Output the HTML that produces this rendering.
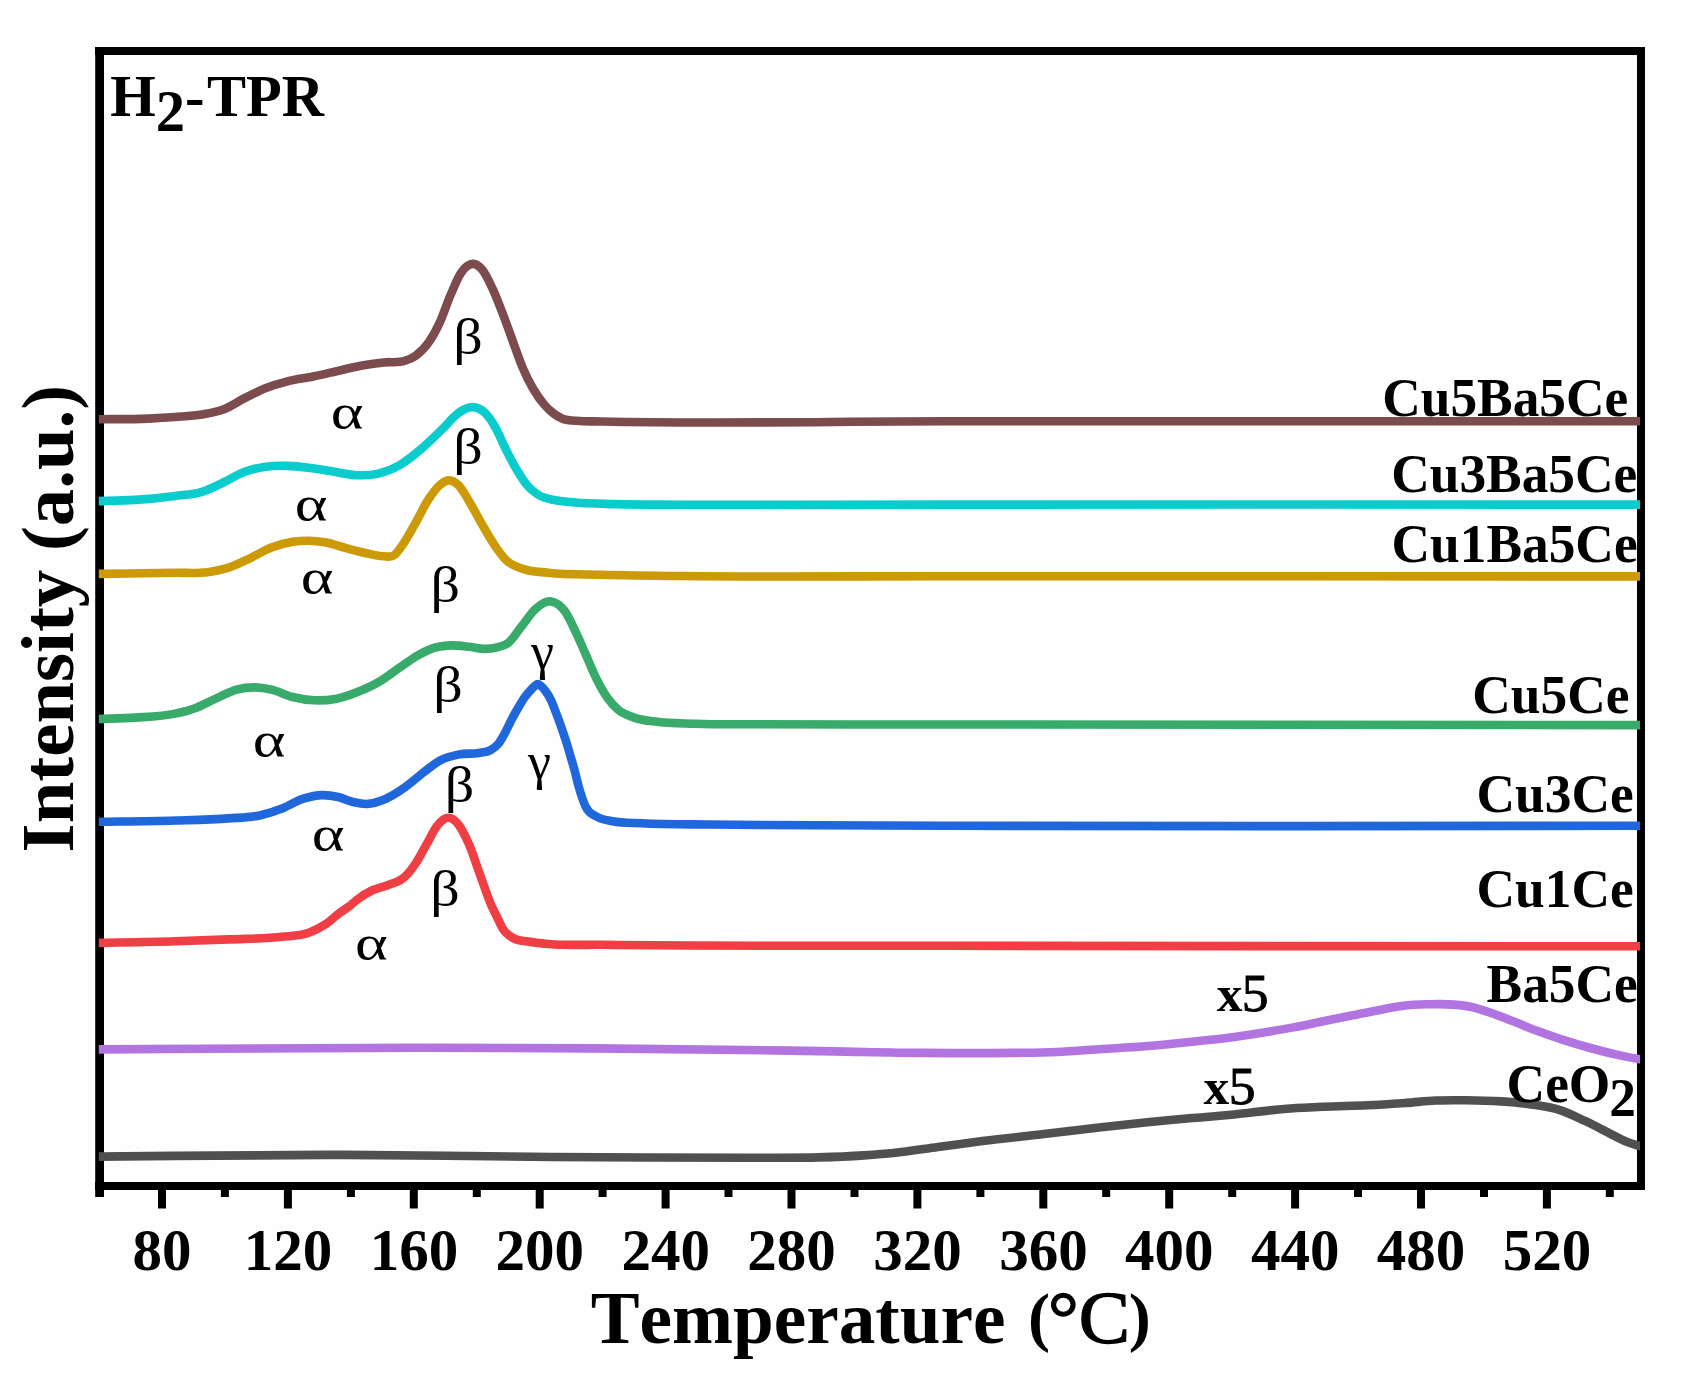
<!DOCTYPE html>
<html lang="en">
<head>
<meta charset="utf-8">
<title>H2-TPR</title>
<style>
html,body{margin:0;padding:0;background:#fff;}
body{width:1684px;height:1375px;overflow:hidden;}
svg{display:block;}
svg text{font-kerning:none;font-family:"Liberation Serif","DejaVu Serif",serif;font-weight:bold;fill:#000;}
.tl text{font-size:59px;}
.lb text{font-size:54.2px;}
.gk text{font-weight:normal;}
.cv path{fill:none;stroke-width:8.6;stroke-linejoin:round;stroke-linecap:butt;}
</style>
</head>
<body>
<svg width="1684" height="1375" viewBox="0 0 1684 1375">
<rect x="0" y="0" width="1684" height="1375" fill="#ffffff"/>
<rect x="17" y="28" width="1641" height="1325" fill="#fefefe"/>
<!-- frame -->
<g fill="#000">
<rect x="95" y="47" width="1550" height="8"/>
<rect x="95" y="1182" width="1550" height="8"/>
<rect x="95.2" y="47" width="8.8" height="1150"/>
<rect x="1637" y="47" width="8" height="1143"/>
<rect x="158.0" y="1186" width="8" height="22.5"/><rect x="220.9" y="1186" width="8" height="11"/><rect x="283.9" y="1186" width="8" height="22.5"/><rect x="346.9" y="1186" width="8" height="11"/><rect x="409.8" y="1186" width="8" height="22.5"/><rect x="472.8" y="1186" width="8" height="11"/><rect x="535.7" y="1186" width="8" height="22.5"/><rect x="598.6" y="1186" width="8" height="11"/><rect x="661.6" y="1186" width="8" height="22.5"/><rect x="724.5" y="1186" width="8" height="11"/><rect x="787.5" y="1186" width="8" height="22.5"/><rect x="850.5" y="1186" width="8" height="11"/><rect x="913.4" y="1186" width="8" height="22.5"/><rect x="976.4" y="1186" width="8" height="11"/><rect x="1039.3" y="1186" width="8" height="22.5"/><rect x="1102.2" y="1186" width="8" height="11"/><rect x="1165.2" y="1186" width="8" height="22.5"/><rect x="1228.2" y="1186" width="8" height="11"/><rect x="1291.1" y="1186" width="8" height="22.5"/><rect x="1354.0" y="1186" width="8" height="11"/><rect x="1417.0" y="1186" width="8" height="22.5"/><rect x="1480.0" y="1186" width="8" height="11"/><rect x="1542.9" y="1186" width="8" height="22.5"/><rect x="1605.8" y="1186" width="8" height="11"/>
</g>
<defs><clipPath id="cp"><rect x="98.8" y="40" width="1541.2" height="1160"/></clipPath></defs>
<g class="cv" clip-path="url(#cp)">
<path d="M96.0 1156.6C178.8 1156.0 261.6 1154.7 344.4 1154.9C413.7 1155.1 482.9 1156.5 552.2 1157.0C616.5 1157.4 680.7 1157.8 745.0 1157.7C769.7 1157.7 794.3 1158.1 819.0 1157.4C833.9 1157.0 848.9 1156.4 863.8 1155.4C873.7 1154.7 883.6 1154.0 893.5 1153.0C908.3 1151.5 923.2 1149.0 938.0 1147.0C952.8 1145.0 967.7 1143.0 982.5 1141.1C1002.3 1138.6 1022.1 1136.6 1041.9 1134.3C1061.7 1132.0 1081.5 1129.4 1101.3 1127.2C1115.9 1125.6 1130.4 1124.0 1145.0 1122.5C1159.8 1121.0 1174.7 1119.6 1189.5 1118.3C1204.4 1117.0 1219.2 1116.0 1234.1 1114.5C1248.9 1113.0 1263.8 1110.8 1278.6 1109.5C1293.4 1108.2 1308.3 1107.5 1323.1 1106.8C1338.0 1106.1 1352.8 1106.0 1367.7 1105.3C1380.6 1104.7 1393.4 1103.8 1406.3 1102.9C1416.2 1102.2 1426.1 1100.9 1436.0 1100.5C1445.9 1100.1 1455.8 1100.2 1465.7 1100.3C1477.6 1100.4 1489.4 1100.6 1501.3 1101.4C1511.2 1102.1 1521.1 1102.9 1531.0 1104.4C1540.9 1105.9 1550.8 1107.0 1560.7 1110.3C1568.6 1112.9 1576.5 1117.0 1584.4 1120.7C1592.3 1124.4 1600.3 1128.6 1608.2 1132.6C1614.1 1135.6 1620.1 1139.1 1626.0 1141.5C1630.7 1143.4 1635.3 1144.8 1640.0 1146.2C1642.0 1146.8 1644.0 1147.4 1646.0 1148.0" stroke="#505050"/>
<path d="M96.0 1049.4C206.5 1048.8 317.0 1047.6 427.5 1047.7C533.3 1047.8 639.2 1048.5 745.0 1050.0C774.7 1050.4 804.3 1050.9 834.0 1051.4C863.7 1051.9 893.3 1052.7 923.0 1052.9C952.7 1053.2 982.3 1053.3 1012.0 1052.9C1026.9 1052.7 1041.9 1052.7 1056.8 1052.0C1071.6 1051.3 1086.5 1050.0 1101.3 1049.0C1115.9 1048.1 1130.4 1047.5 1145.0 1046.3C1159.8 1045.1 1174.7 1043.6 1189.5 1042.0C1204.4 1040.4 1219.2 1038.9 1234.1 1036.9C1244.0 1035.5 1253.9 1034.0 1263.8 1032.4C1273.7 1030.8 1283.6 1029.3 1293.5 1027.4C1303.4 1025.6 1313.2 1023.3 1323.1 1021.3C1333.0 1019.3 1342.9 1017.3 1352.8 1015.3C1362.7 1013.3 1372.6 1011.2 1382.5 1009.4C1389.4 1008.1 1396.4 1006.6 1403.3 1005.8C1411.2 1004.8 1419.2 1004.5 1427.1 1004.3C1436.0 1004.1 1444.9 1003.8 1453.8 1004.6C1459.7 1005.1 1465.7 1005.7 1471.6 1007.0C1477.5 1008.3 1483.5 1010.4 1489.4 1012.4C1497.3 1015.0 1505.3 1018.2 1513.2 1021.3C1521.1 1024.4 1529.0 1027.8 1536.9 1030.8C1544.8 1033.8 1552.8 1036.5 1560.7 1039.1C1570.6 1042.3 1580.5 1045.3 1590.4 1048.0C1600.3 1050.7 1610.1 1053.3 1620.0 1055.4C1626.7 1056.8 1633.3 1058.0 1640.0 1059.3C1642.0 1059.7 1644.0 1060.1 1646.0 1060.5" stroke="#b174e1"/>
<path d="M96.0 942.9C122.4 942.4 148.8 942.1 175.2 941.3C193.0 940.8 210.8 940.1 228.6 939.4C246.4 938.6 264.3 938.9 282.1 936.8C291.0 935.8 299.9 936.1 308.8 932.8C314.1 930.8 319.5 928.2 324.8 924.7C330.2 921.2 335.5 915.8 340.9 912.0C343.6 910.1 346.3 908.6 349.0 906.5C351.6 904.5 354.3 901.8 356.9 899.8C362.2 895.7 367.6 892.5 372.9 890.0C378.3 887.5 383.6 886.9 389.0 884.7C394.3 882.5 399.7 881.7 405.0 876.6C408.6 873.2 412.1 868.6 415.7 863.3C419.3 858.0 422.8 850.8 426.4 844.6C430.0 838.4 433.5 830.4 437.1 825.9C440.7 821.4 444.2 818.0 447.8 817.8C451.3 817.6 454.9 820.1 458.4 824.5C462.0 829.0 465.5 836.4 469.1 844.6C472.7 852.9 476.2 864.2 479.8 874.0C483.4 883.8 486.9 895.1 490.5 903.4C492.7 908.5 494.8 912.6 497.0 917.0C499.0 921.1 501.0 925.8 503.0 929.0C506.3 934.3 509.7 935.9 513.0 938.0C518.0 941.1 522.9 940.6 527.9 941.5C534.7 942.8 541.6 943.4 548.4 944.0C566.2 945.6 584.1 944.6 601.9 944.8C716.3 946.3 830.6 945.5 945.0 945.8C1178.7 946.3 1412.3 946.1 1646.0 946.3" stroke="#f03f44"/>
<path d="M96.0 821.8C122.4 821.4 148.8 821.3 175.2 820.5C193.0 820.0 210.8 819.8 228.6 818.4C239.3 817.6 250.0 817.6 260.7 815.2C267.8 813.6 275.0 811.3 282.1 808.5C289.2 805.7 296.3 800.8 303.4 798.6C309.7 796.6 315.9 795.2 322.2 795.1C327.5 795.0 332.9 795.8 338.2 797.0C343.5 798.2 348.9 801.1 354.2 802.3C358.7 803.3 363.1 804.1 367.6 803.9C372.9 803.6 378.3 801.8 383.6 799.7C390.7 796.8 397.9 792.2 405.0 787.2C411.3 782.8 417.6 777.0 423.9 772.2C429.1 768.2 434.4 763.6 439.6 760.7C446.2 757.1 452.7 755.7 459.3 754.4C465.8 753.1 472.4 754.2 478.9 753.0C482.8 752.3 486.8 752.3 490.7 750.0C493.3 748.5 495.9 746.9 498.5 743.6C500.7 740.8 502.9 736.7 505.1 732.7C507.3 728.7 509.4 723.7 511.6 719.6C513.8 715.4 516.0 711.5 518.2 707.8C520.4 704.1 522.5 700.3 524.7 697.3C526.9 694.2 529.1 691.8 531.3 689.5C532.5 688.2 533.8 686.8 535.0 685.8C535.9 685.1 536.9 684.1 537.8 684.1C538.7 684.1 539.7 685.1 540.6 685.8C541.8 686.8 543.1 688.0 544.3 689.5C546.5 692.2 548.7 695.3 550.9 699.9C552.6 703.5 554.4 708.5 556.1 713.0C557.9 717.6 559.6 722.3 561.4 727.4C563.1 732.4 564.9 737.5 566.6 743.1C567.9 747.3 569.2 751.8 570.5 756.2C571.8 760.7 573.2 765.0 574.5 770.0C575.8 775.0 577.2 781.2 578.5 786.0C581.0 794.9 583.4 802.1 585.9 807.2C589.4 814.4 593.0 814.2 596.5 816.5C601.9 820.0 607.2 820.1 612.6 821.3C622.4 823.4 632.2 822.7 642.0 823.2C664.3 824.3 686.5 824.2 708.8 824.5C744.4 825.0 780.1 825.1 815.7 825.3C858.8 825.6 901.9 825.7 945.0 825.8C1178.7 826.6 1412.3 825.8 1646.0 825.8" stroke="#2167dc"/>
<path d="M96.0 719.0C109.0 718.5 122.1 718.5 135.1 717.6C148.5 716.7 161.8 716.5 175.2 713.6C182.3 712.1 189.4 710.4 196.5 707.7C203.6 705.0 210.8 700.8 217.9 697.6C224.1 694.8 230.4 691.3 236.6 689.6C242.8 687.9 249.1 687.3 255.3 687.4C260.7 687.5 266.0 688.4 271.4 689.6C278.5 691.2 285.6 695.2 292.7 697.0C299.8 698.8 307.0 700.0 314.1 700.3C321.2 700.6 328.4 700.2 335.5 698.9C342.6 697.5 349.8 695.0 356.9 692.2C364.0 689.4 371.2 686.3 378.3 682.2C385.4 678.1 392.6 672.4 399.7 667.5C405.0 663.9 410.4 659.8 415.7 656.6C421.0 653.5 426.4 650.5 431.7 648.6C437.9 646.4 444.2 645.7 450.4 645.4C456.6 645.1 462.9 646.1 469.1 646.8C474.5 647.4 479.8 649.0 485.2 648.9C489.1 648.8 493.1 648.4 497.0 647.3C500.8 646.3 504.6 645.8 508.4 642.8C512.8 639.3 517.3 631.8 521.7 626.3C526.2 620.7 530.6 613.5 535.1 609.4C540.4 604.5 545.8 600.6 551.1 601.4C555.6 602.1 560.0 604.7 564.5 610.7C568.1 615.5 571.6 623.4 575.2 630.8C578.8 638.1 582.3 646.7 585.9 654.8C589.4 662.8 593.0 671.8 596.5 678.9C600.1 686.1 603.6 692.5 607.2 697.6C610.8 702.7 614.3 706.5 617.9 709.6C623.3 714.3 628.6 715.6 634.0 717.6C641.1 720.2 648.2 720.6 655.3 721.6C668.7 723.5 682.0 723.3 695.4 723.8C717.7 724.6 739.9 724.2 762.2 724.3C823.1 724.7 884.1 724.4 945.0 724.5C1178.7 724.7 1412.3 724.9 1646.0 725.1" stroke="#38ab6b"/>
<path d="M96.0 573.9C122.4 573.5 148.8 573.3 175.2 572.8C185.9 572.6 196.5 573.6 207.2 572.2C214.3 571.2 221.5 570.0 228.6 567.7C235.7 565.4 242.9 561.6 250.0 558.3C257.1 554.9 264.3 550.4 271.4 547.6C278.5 544.8 285.6 542.8 292.7 541.7C298.1 540.9 303.4 540.6 308.8 540.7C314.1 540.8 319.5 541.4 324.8 542.3C331.9 543.5 339.1 546.3 346.2 548.2C353.3 550.1 360.5 552.1 367.6 553.5C372.9 554.6 378.3 556.2 383.6 556.2C387.2 556.2 390.7 557.8 394.3 555.1C397.0 553.1 399.6 549.0 402.3 545.3C406.8 539.0 411.2 530.4 415.7 522.6C420.1 514.8 424.6 505.1 429.0 498.5C432.6 493.2 436.1 488.2 439.7 485.2C442.8 482.5 446.0 480.4 449.1 480.4C452.2 480.4 455.3 482.2 458.4 485.2C462.0 488.7 465.5 495.4 469.1 501.2C473.6 508.5 478.0 517.5 482.5 525.2C486.8 532.6 491.2 540.4 495.5 546.6C499.0 551.6 502.5 556.6 506.0 560.0C511.2 565.1 516.5 566.4 521.7 568.5C530.6 572.1 539.5 571.7 548.4 572.8C566.2 574.9 584.1 574.2 601.9 574.7C628.6 575.4 655.3 575.7 682.0 576.0C769.7 577.1 857.3 576.1 945.0 576.2C1178.7 576.3 1412.3 576.3 1646.0 576.4" stroke="#cc9a06"/>
<path d="M96.0 501.2C109.0 500.8 122.1 500.8 135.1 499.9C148.5 499.0 161.8 497.7 175.2 495.9C184.1 494.7 193.0 494.6 201.9 491.8C209.0 489.6 216.2 485.8 223.3 482.5C230.4 479.2 237.5 474.4 244.6 471.8C251.7 469.2 258.9 467.7 266.0 466.7C273.1 465.7 280.3 465.7 287.4 465.9C294.5 466.1 301.7 466.9 308.8 467.8C317.7 468.9 326.6 470.6 335.5 472.0C342.6 473.1 349.8 474.9 356.9 475.2C364.0 475.5 371.2 475.3 378.3 473.6C385.4 471.9 392.6 469.2 399.7 465.1C406.8 461.0 413.9 455.1 421.0 449.1C428.1 443.1 435.3 435.9 442.4 429.0C447.7 423.8 453.1 416.7 458.4 413.0C463.0 409.8 467.7 406.9 472.3 407.1C476.6 407.2 480.9 408.7 485.2 413.0C488.6 416.4 492.1 421.6 495.5 427.7C498.9 433.7 502.3 442.3 505.7 449.1C509.3 456.2 512.8 463.1 516.4 469.1C520.0 475.1 523.5 481.0 527.1 485.2C530.7 489.4 534.2 492.2 537.8 494.5C543.1 498.0 548.5 498.6 553.8 499.9C560.9 501.6 568.1 501.8 575.2 502.5C588.6 503.7 601.9 503.7 615.3 504.1C637.5 504.7 659.8 504.5 682.0 504.7C769.7 505.3 857.3 504.6 945.0 504.6C1178.7 504.5 1412.3 504.6 1646.0 504.6" stroke="#0acccd"/>
<path d="M96.0 419.2C113.5 419.0 130.9 419.4 148.4 418.6C157.3 418.2 166.3 417.7 175.2 417.0C184.1 416.3 193.0 416.0 201.9 414.5C209.0 413.3 216.2 412.2 223.3 409.5C230.4 406.8 237.5 401.8 244.6 398.2C251.7 394.6 258.9 390.9 266.0 388.1C273.1 385.3 280.3 383.2 287.4 381.4C296.3 379.1 305.2 378.2 314.1 376.3C323.0 374.4 332.0 372.2 340.9 370.2C348.0 368.6 355.1 366.7 362.2 365.4C369.3 364.1 376.5 363.2 383.6 362.4C390.7 361.6 397.9 363.2 405.0 360.8C408.6 359.6 412.1 358.3 415.7 355.7C420.1 352.5 424.6 348.4 429.0 341.9C432.6 336.7 436.1 330.4 439.7 322.6C443.3 314.9 446.8 303.7 450.4 295.4C454.0 287.1 457.5 277.9 461.1 272.7C465.1 266.9 469.0 263.8 473.0 263.9C476.2 264.0 479.3 266.1 482.5 270.0C486.1 274.4 489.6 282.3 493.2 290.1C496.8 297.9 500.3 307.5 503.9 316.8C507.5 326.2 511.0 336.5 514.6 346.2C517.3 353.4 519.9 361.2 522.6 367.6C526.2 376.1 529.7 382.9 533.3 389.0C537.2 395.7 541.1 401.1 545.0 405.5C547.7 408.5 550.3 410.9 553.0 413.0C555.9 415.3 558.9 417.0 561.8 418.4C568.0 421.3 574.3 420.5 580.5 421.0C587.6 421.6 594.8 421.3 601.9 421.5C716.3 424.0 830.6 421.4 945.0 421.3C1178.7 421.2 1412.3 421.2 1646.0 421.2" stroke="#7b4b4e"/>
</g>
<g class="tl"><text x="162.1" y="1269.6" text-anchor="middle">80</text><text x="288.0" y="1269.6" text-anchor="middle">120</text><text x="413.9" y="1269.6" text-anchor="middle">160</text><text x="539.8" y="1269.6" text-anchor="middle">200</text><text x="665.7" y="1269.6" text-anchor="middle">240</text><text x="791.6" y="1269.6" text-anchor="middle">280</text><text x="917.5" y="1269.6" text-anchor="middle">320</text><text x="1043.4" y="1269.6" text-anchor="middle">360</text><text x="1169.3" y="1269.6" text-anchor="middle">400</text><text x="1295.2" y="1269.6" text-anchor="middle">440</text><text x="1421.1" y="1269.6" text-anchor="middle">480</text><text x="1547.0" y="1269.6" text-anchor="middle">520</text></g>
<g class="lb"><text transform="translate(1628.3,415.7) scale(0.985,1)" text-anchor="end">Cu5Ba5Ce</text><text transform="translate(1637.3,491.5) scale(0.985,1)" text-anchor="end">Cu3Ba5Ce</text><text transform="translate(1637.6,561.8) scale(0.985,1)" text-anchor="end">Cu1Ba5Ce</text><text transform="translate(1629.4,713.0) scale(0.985,1)" text-anchor="end">Cu5Ce</text><text transform="translate(1633.7,812.0) scale(0.985,1)" text-anchor="end">Cu3Ce</text><text transform="translate(1633.7,907.0) scale(0.985,1)" text-anchor="end">Cu1Ce</text><text transform="translate(1637.8,1001.9) scale(0.985,1)" text-anchor="end">Ba5Ce</text>
<text x="1216.7" y="1010.9" style="font-size:51.5px">x<tspan font-weight="normal" stroke="#000" stroke-width="0.9" style="font-size:53.6px" dx="-0.6">5</tspan></text>
<text x="1203.6" y="1103.7" style="font-size:51.5px">x<tspan font-weight="normal" stroke="#000" stroke-width="0.9" style="font-size:53.6px" dx="-0.6">5</tspan></text>
<text transform="translate(1506.6,1102.4) scale(0.985,1)">CeO<tspan dy="13.4" dx="-1">2</tspan></text>
</g>
<g class="gk"><text transform="translate(468.0,354.3) scale(1.16,1)" font-size="50" text-anchor="middle">β</text><text transform="translate(347.2,428.5) scale(1.25,1)" font-size="50" text-anchor="middle">α</text><text transform="translate(468.0,463.9) scale(1.16,1)" font-size="50" text-anchor="middle">β</text><text transform="translate(311.2,520.9) scale(1.25,1)" font-size="50" text-anchor="middle">α</text><text transform="translate(317.1,593.5) scale(1.25,1)" font-size="50" text-anchor="middle">α</text><text transform="translate(445.3,601.5) scale(1.16,1)" font-size="50" text-anchor="middle">β</text><text transform="translate(542.6,668.8) scale(1.00,1)" font-size="52" text-anchor="middle">γ</text><text transform="translate(448.0,701.7) scale(1.16,1)" font-size="50" text-anchor="middle">β</text><text transform="translate(269.2,757.4) scale(1.25,1)" font-size="50" text-anchor="middle">α</text><text transform="translate(539.6,778.9) scale(1.00,1)" font-size="52" text-anchor="middle">γ</text><text transform="translate(459.6,801.9) scale(1.16,1)" font-size="50" text-anchor="middle">β</text><text transform="translate(328.2,850.7) scale(1.25,1)" font-size="50" text-anchor="middle">α</text><text transform="translate(445.0,906.1) scale(1.16,1)" font-size="50" text-anchor="middle">β</text><text transform="translate(371.3,960.0) scale(1.25,1)" font-size="50" text-anchor="middle">α</text></g>
<text transform="translate(110.2,115.7) scale(1.0,1)" font-size="58.5">H<tspan dy="15.7">2</tspan><tspan dy="-15.7">-</tspan><tspan dx="2.5">TPR</tspan></text>
<text x="590.8" y="1342.8" font-size="73.2">Temperature <tspan x="1028" dy="-3.6" font-size="66.3">(</tspan><tspan x="1048" dy="3.6" font-weight="normal" stroke="#000" stroke-width="1.3" textLength="82" lengthAdjust="spacingAndGlyphs">°C</tspan><tspan x="1128.8" dy="-3.6" font-size="66.3">)</tspan></text>
<text transform="translate(72.8,852.4) rotate(-90)" font-size="74.8">Intensity (a.u.)</text>
</svg>
</body>
</html>
